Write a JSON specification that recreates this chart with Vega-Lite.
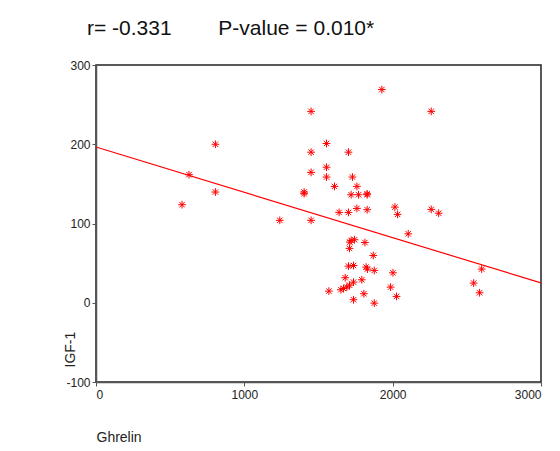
{
  "$schema": "https://vega.github.io/schema/vega-lite/v6.json",
  "width": 445,
  "height": 317,
  "autosize": {"type": "none"},
  "padding": {"left": 96, "top": 65, "right": 19, "bottom": 69},
  "background": "white",
  "config": {
    "font": "Liberation Sans",
    "view": {"stroke": "#222", "strokeWidth": 1.5},
    "axis": {"grid": false, "domainColor": "#555", "domainWidth": 1.5, "tickColor": "#555", "tickSize": 4, "labelFontSize": 12, "labelColor": "#222", "titleFontSize": 14, "titleFontWeight": "normal", "titleColor": "#222"}
  },
  "title": {"text": "r= -0.331\u00a0\u00a0\u00a0\u00a0\u00a0\u00a0\u00a0\u00a0P-value = 0.010*", "anchor": "start", "frame": "group", "dx": -9, "offset": 20, "fontSize": 21, "fontWeight": "normal", "color": "#111", "font": "Liberation Sans"},
  "datasets": {
    "pts": [
      {"ghrelin": 1927, "igf": 269}, {"ghrelin": 1450, "igf": 241.5}, {"ghrelin": 2260, "igf": 241.5},
      {"ghrelin": 805, "igf": 200}, {"ghrelin": 1554, "igf": 201}, {"ghrelin": 1450, "igf": 190},
      {"ghrelin": 1702, "igf": 190}, {"ghrelin": 627, "igf": 161.6}, {"ghrelin": 1450, "igf": 164.5},
      {"ghrelin": 1554, "igf": 171}, {"ghrelin": 1554, "igf": 158.6}, {"ghrelin": 1729, "igf": 158.6},
      {"ghrelin": 1608, "igf": 146.8}, {"ghrelin": 1759, "igf": 146.8}, {"ghrelin": 805, "igf": 139.7},
      {"ghrelin": 1403, "igf": 139.7}, {"ghrelin": 1403, "igf": 137.6}, {"ghrelin": 1720, "igf": 136.3},
      {"ghrelin": 1770, "igf": 136.3}, {"ghrelin": 1828, "igf": 136.3}, {"ghrelin": 1828, "igf": 137.5},
      {"ghrelin": 580, "igf": 123.7}, {"ghrelin": 2015, "igf": 120.7}, {"ghrelin": 2033, "igf": 111.5},
      {"ghrelin": 2260, "igf": 117.8}, {"ghrelin": 2310, "igf": 113}, {"ghrelin": 1639, "igf": 114},
      {"ghrelin": 1702, "igf": 114}, {"ghrelin": 1759, "igf": 119}, {"ghrelin": 1828, "igf": 117.4},
      {"ghrelin": 1239, "igf": 104}, {"ghrelin": 1450, "igf": 104}, {"ghrelin": 2105, "igf": 87},
      {"ghrelin": 1720, "igf": 78.7}, {"ghrelin": 1743, "igf": 79.5}, {"ghrelin": 1711, "igf": 76.5},
      {"ghrelin": 1813, "igf": 76}, {"ghrelin": 1709, "igf": 68.6}, {"ghrelin": 1869, "igf": 59.7},
      {"ghrelin": 1702, "igf": 46.2}, {"ghrelin": 1736, "igf": 47}, {"ghrelin": 1821, "igf": 45},
      {"ghrelin": 1830, "igf": 42.5}, {"ghrelin": 1876, "igf": 40.8}, {"ghrelin": 2002, "igf": 37.8},
      {"ghrelin": 2600, "igf": 42.5}, {"ghrelin": 1680, "igf": 31.6}, {"ghrelin": 1792, "igf": 29},
      {"ghrelin": 1736, "igf": 26}, {"ghrelin": 1709, "igf": 22.2}, {"ghrelin": 1691, "igf": 19.7},
      {"ghrelin": 1669, "igf": 18}, {"ghrelin": 1651, "igf": 16.4}, {"ghrelin": 1570, "igf": 14.7},
      {"ghrelin": 1986, "igf": 19.7}, {"ghrelin": 2546, "igf": 24.8}, {"ghrelin": 2586, "igf": 12.6},
      {"ghrelin": 2026, "igf": 8}, {"ghrelin": 1736, "igf": 3.8}, {"ghrelin": 1806, "igf": 11.4},
      {"ghrelin": 1876, "igf": -0.5}
    ],
    "fit": [
      {"ghrelin": 0, "igf": 196.5},
      {"ghrelin": 3000, "igf": 25}
    ]
  },
  "layer": [
    {
      "data": {"name": "fit"},
      "mark": {"type": "line", "color": "#ff0000", "strokeWidth": 1.2},
      "encoding": {
        "x": {"field": "ghrelin", "type": "quantitative"},
        "y": {"field": "igf", "type": "quantitative"}
      }
    },
    {
      "data": {"name": "pts"},
      "mark": {"type": "point", "filled": false, "stroke": "#ff0000", "strokeWidth": 1, "opacity": 1, "size": 60,
               "shape": "M-1,0L1,0M0,-1L0,1M-0.7,-0.7L0.7,0.7M-0.7,0.7L0.7,-0.7"},
      "encoding": {
        "x": {"field": "ghrelin", "type": "quantitative",
              "scale": {"domain": [0, 3000], "nice": false, "zero": false},
              "axis": {"values": [0, 1000, 2000, 3000], "labelExpr": "'' + datum.value", "title": "Ghrelin", "titleAnchor": "start", "titleAlign": "left", "titleX": 0, "titleY": 55, "titleBaseline": "middle", "labelPadding": 3}},
        "y": {"field": "igf", "type": "quantitative",
              "scale": {"domain": [-100, 300], "nice": false, "zero": false},
              "axis": {"values": [-100, 0, 100, 200, 300], "labelExpr": "'' + datum.value", "title": "IGF-1", "titleAngle": -90, "titleAlign": "left", "titleBaseline": "middle", "titleX": -26, "titleY": 302, "labelPadding": 2}}
      }
    }
  ]
}
